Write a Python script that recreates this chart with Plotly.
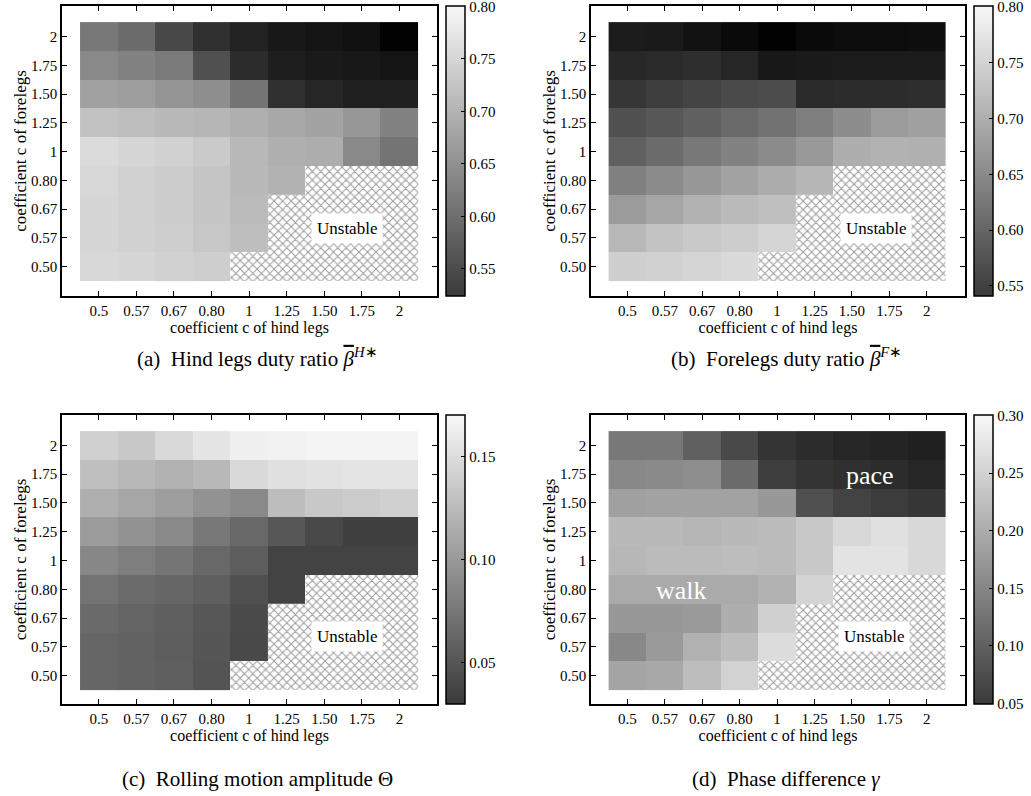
import plotly.graph_objects as go

# ---------------- data ----------------
hind_labels = ["0.5", "0.57", "0.67", "0.80", "1", "1.25", "1.50", "1.75", "2"]
fore_labels = ["0.50", "0.57", "0.67", "0.80", "1", "1.25", "1.50", "1.75", "2"]

N = None  # unstable (no value)

# rows: c of forelegs 0.50 (bottom) ... 2 (top); columns: c of hind legs 0.5 ... 2
beta_H = [
    [0.758, 0.756, 0.751, 0.747, N, N, N, N, N],
    [0.756, 0.751, 0.747, 0.740, 0.730, N, N, N, N],
    [0.756, 0.751, 0.745, 0.738, 0.727, N, N, N, N],
    [0.758, 0.751, 0.745, 0.738, 0.725, 0.717, N, N, N],
    [0.762, 0.756, 0.751, 0.743, 0.723, 0.714, 0.712, 0.673, 0.650],
    [0.734, 0.730, 0.725, 0.721, 0.714, 0.706, 0.701, 0.688, 0.665],
    [0.699, 0.695, 0.686, 0.678, 0.650, 0.576, 0.565, 0.559, 0.559],
    [0.673, 0.665, 0.656, 0.611, 0.572, 0.556, 0.552, 0.550, 0.546],
    [0.654, 0.641, 0.602, 0.576, 0.561, 0.550, 0.546, 0.541, 0.526],
]

beta_F = [
    [0.752, 0.754, 0.758, 0.763, N, N, N, N, N],
    [0.728, 0.740, 0.746, 0.750, 0.758, N, N, N, N],
    [0.699, 0.710, 0.722, 0.730, 0.736, N, N, N, N],
    [0.671, 0.683, 0.695, 0.706, 0.716, 0.726, N, N, N],
    [0.639, 0.651, 0.663, 0.673, 0.683, 0.697, 0.718, 0.722, 0.720],
    [0.622, 0.630, 0.639, 0.649, 0.657, 0.669, 0.685, 0.699, 0.704],
    [0.596, 0.604, 0.610, 0.616, 0.618, 0.584, 0.586, 0.586, 0.588],
    [0.582, 0.584, 0.588, 0.580, 0.565, 0.567, 0.569, 0.569, 0.569],
    [0.569, 0.567, 0.559, 0.551, 0.543, 0.551, 0.553, 0.553, 0.555],
]

theta = [
    [0.086, 0.084, 0.082, 0.076, N, N, N, N, N],
    [0.086, 0.084, 0.081, 0.077, 0.070, N, N, N, N],
    [0.088, 0.085, 0.082, 0.078, 0.071, N, N, N, N],
    [0.093, 0.089, 0.086, 0.082, 0.074, 0.067, N, N, N],
    [0.104, 0.099, 0.094, 0.087, 0.081, 0.067, 0.067, 0.067, 0.067],
    [0.115, 0.110, 0.105, 0.096, 0.087, 0.078, 0.070, 0.065, 0.065],
    [0.126, 0.121, 0.117, 0.110, 0.105, 0.134, 0.140, 0.142, 0.144],
    [0.135, 0.131, 0.127, 0.131, 0.149, 0.153, 0.154, 0.155, 0.155],
    [0.144, 0.140, 0.149, 0.156, 0.162, 0.163, 0.164, 0.164, 0.164],
]

gamma = [
    [0.211, 0.215, 0.236, 0.256, N, N, N, N, N],
    [0.183, 0.201, 0.224, 0.236, 0.266, N, N, N, N],
    [0.199, 0.199, 0.201, 0.221, 0.254, N, N, N, N],
    [0.217, 0.217, 0.217, 0.217, 0.224, 0.258, N, N, N],
    [0.230, 0.234, 0.234, 0.236, 0.234, 0.246, 0.273, 0.273, 0.262],
    [0.232, 0.232, 0.228, 0.232, 0.234, 0.246, 0.262, 0.270, 0.262],
    [0.207, 0.209, 0.209, 0.209, 0.199, 0.128, 0.115, 0.109, 0.103],
    [0.183, 0.185, 0.189, 0.156, 0.111, 0.101, 0.097, 0.093, 0.087],
    [0.168, 0.168, 0.144, 0.121, 0.101, 0.093, 0.087, 0.085, 0.081],
]

cb_ticks_duty = [0.55, 0.60, 0.65, 0.70, 0.75, 0.80]
cb_ticks_theta = [0.05, 0.10, 0.15]
cb_ticks_gamma = [0.05, 0.10, 0.15, 0.20, 0.25, 0.30]

BBAR = '<span style="text-decoration:overline"><i>β</i></span>'
captions = [
    "(a)  Hind legs duty ratio " + BBAR + "<sup><i>H</i>∗</sup>",
    "(b)  Forelegs duty ratio " + BBAR + "<sup><i>F</i>∗</sup>",
    "(c)  Rolling motion amplitude Θ",
    "(d)  Phase difference <i>γ</i>",
]

# ---------------- layout geometry ----------------
W, H = 1031, 796
FONT = "Liberation Serif"
heat_scale = [[0, "#000000"], [1, "#ffffff"]]
bar_scale = [[0, "#3a3a3a"], [1, "#f8f8f8"]]


def px_x(v):
    return v / W


def px_y(v):
    return 1 - v / H


panels = [
    dict(z=beta_H, zmin=0.524, zmax=0.8005, ticks=cb_ticks_duty,
         frame=(62, 437, 6, 296), cbx=446, xr=[-0.98, 9.0], yr=[-1.02, 9.06],
         unst=(6.6, 1.31), cap=(257, 357)),
    dict(z=beta_F, zmin=0.541, zmax=0.8008, ticks=cb_ticks_duty,
         frame=(591, 965, 6, 296), cbx=974, xr=[-0.97, 9.02], yr=[-1.02, 9.06],
         unst=(6.64, 1.31), cap=(786, 357)),
    dict(z=theta, zmin=0.030, zmax=0.170, ticks=cb_ticks_theta,
         frame=(62, 437, 415, 704), cbx=446, xr=[-0.98, 9.0], yr=[-0.99, 9.06],
         unst=(6.6, 1.37), cap=(257, 779)),
    dict(z=gamma, zmin=0.0495, zmax=0.3005, ticks=cb_ticks_gamma,
         frame=(591, 965, 415, 704), cbx=974, xr=[-0.97, 9.02], yr=[-0.99, 9.06],
         unst=(6.6, 1.37), cap=(786, 779)),
]

fig = go.Figure()
layout = dict(
    width=W, height=H, margin=dict(l=0, r=0, t=0, b=0),
    paper_bgcolor="white", plot_bgcolor="white",
    showlegend=False, barmode="overlay",
    font=dict(family=FONT, size=15, color="black"),
)
annotations = []

ncols = len(hind_labels)
nrows = len(fore_labels)

for k, p in enumerate(panels):
    sfx = "" if k == 0 else str(k + 1)
    xa, ya = "x" + sfx, "y" + sfx
    l, r, t, b = p["frame"]

    fig.add_trace(go.Heatmap(
        z=p["z"], x=list(range(ncols)), y=list(range(nrows)),
        zmin=p["zmin"], zmax=p["zmax"], colorscale=heat_scale,
        showscale=False, xaxis=xa, yaxis=ya, hoverongaps=False,
    ))

    # unstable region: count missing cells from the bottom of each column
    bx, by = [], []
    for j in range(ncols):
        cnt = 0
        for i in range(nrows):
            if p["z"][i][j] is None:
                cnt += 1
            else:
                break
        if cnt > 0:
            bx.append(j)
            by.append(cnt)
    fig.add_trace(go.Bar(
        x=bx, y=by, base=-0.5, width=[1.0] * len(bx),
        marker=dict(color="white", line=dict(width=0),
                    pattern=dict(shape="x", fgcolor="#333333", bgcolor="white",
                                 size=6, solidity=0.3)),
        xaxis=xa, yaxis=ya, hoverinfo="skip",
    ))

    # colorbar carrier
    fig.add_trace(go.Scatter(
        x=[4], y=[4], mode="markers", xaxis=xa, yaxis=ya, hoverinfo="skip",
        marker=dict(size=1, opacity=0, color=[p["zmin"]], cmin=p["zmin"], cmax=p["zmax"],
                    colorscale=bar_scale, showscale=True,
                    colorbar=dict(
                        x=px_x(p["cbx"]), xanchor="left", xpad=0, ypad=0,
                        y=(px_y(t) + px_y(b)) / 2, yanchor="middle",
                        len=(b - t) / H, lenmode="fraction", thickness=19,
                        outlinewidth=1.5, outlinecolor="black",
                        tickvals=p["ticks"], ticktext=["%.2f" % v for v in p["ticks"]],
                        ticks="inside", ticklen=4, tickwidth=1, tickcolor="black",
                        ticklabeloverflow="allow",
                        tickfont=dict(family=FONT, size=15),
                    )),
    ))

    layout["xaxis" + sfx] = dict(
        domain=[px_x(l), px_x(r)], anchor=ya, range=p["xr"],
        tickmode="array", tickvals=list(range(ncols)), ticktext=hind_labels,
        ticks="inside", ticklen=5, tickwidth=1, tickcolor="black",
        showline=True, linewidth=1.5, linecolor="black", mirror="allticks",
        showgrid=False, zeroline=False,
        tickfont=dict(family=FONT, size=15),
        title=dict(text="coefficient c of hind legs", standoff=0,
                   font=dict(family=FONT, size=16)),
    )
    layout["yaxis" + sfx] = dict(
        domain=[px_y(b), px_y(t)], anchor=xa, range=p["yr"],
        tickmode="array", tickvals=list(range(nrows)), ticktext=fore_labels,
        ticks="inside", ticklen=5, tickwidth=1, tickcolor="black",
        showline=True, linewidth=1.5, linecolor="black", mirror="allticks",
        showgrid=False, zeroline=False,
        tickfont=dict(family=FONT, size=15),
        title=dict(text="coefficient c of forelegs", standoff=0,
                   font=dict(family=FONT, size=17)),
    )

    ux, uy = p["unst"]
    annotations.append(dict(
        x=ux, y=uy, xref=xa, yref=ya, text="Unstable", showarrow=False,
        bgcolor="white", borderpad=5, font=dict(family=FONT, size=17, color="black"),
    ))
    cx, cy = p["cap"]
    annotations.append(dict(
        x=px_x(cx), y=px_y(cy), xref="paper", yref="paper", text=captions[k],
        showarrow=False, xanchor="center", yanchor="middle",
        font=dict(family=FONT, size=21, color="black"),
    ))

annotations.append(dict(x=1.45, y=2.95, xref="x4", yref="y4", text="walk", showarrow=False,
                        font=dict(family=FONT, size=26, color="white")))
annotations.append(dict(x=6.48, y=6.97, xref="x4", yref="y4", text="pace", showarrow=False,
                        font=dict(family=FONT, size=26, color="white")))

layout["annotations"] = annotations
fig.update_layout(**layout)
fig.write_html("out.html")
